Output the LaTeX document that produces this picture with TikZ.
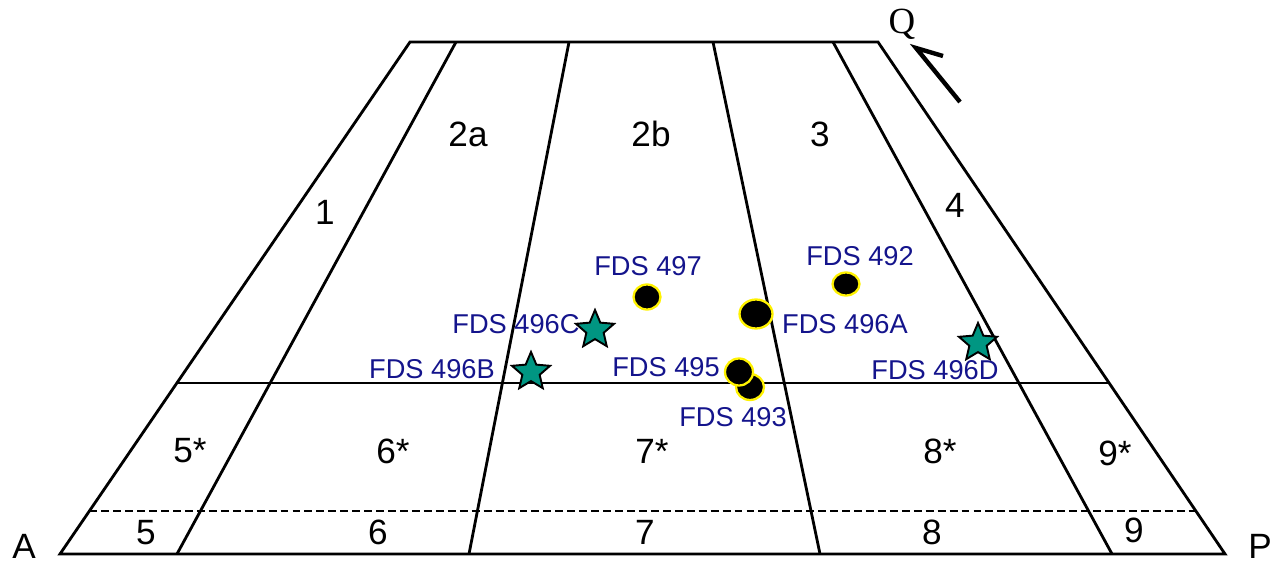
\documentclass[tikz,border=0pt]{standalone}
\usepackage{fontspec}
\setmainfont{Liberation Sans}
\newfontfamily\qfont{Liberation Serif}
\usetikzlibrary{shapes.geometric,calc}

\definecolor{fdsblue}{RGB}{20,20,140}
\definecolor{siteteal}{RGB}{0,150,130}

\tikzset{
  zone/.style={font=\fontsize{20}{24}\selectfont,inner sep=0pt},
  fds/.style={text=fdsblue,font=\fontsize{15.5}{18}\selectfont,inner sep=0pt},
  core/.style={ellipse,fill=black,draw=yellow,line width=1.3pt,inner sep=0pt},
  site/.style={star,star points=5,star point ratio=2.2,fill=siteteal,draw=black,
    line width=1.1pt,minimum size=0.8cm,inner sep=0pt},
}

\begin{document}
\begin{tikzpicture}[x=0.02cm,y=-0.02cm,line width=1.6pt]
  \useasboundingbox (0,0) rectangle (1277,563);
  % corners of the field
  \coordinate (bl) at (60,554);
  \coordinate (tl) at (410,42);
  \coordinate (tr) at (878,42);
  \coordinate (br) at (1225,554);
  \draw (bl) -- (tl) -- (tr) -- (br) -- cycle;
  % column borders
  \draw (456,42) -- (177,554);
  \draw (569,42) -- (469,554);
  \draw (713,42) -- (820,554);
  \draw (833,42) -- (1112,554);
  % row borders
  \draw ($(bl)!0.334!(tl)$) -- ($(br)!0.334!(tr)$);
  \draw[line width=1.1pt, dash pattern=on 4.5pt off 2.3pt]
    ($(bl)!0.084!(tl)$) -- ($(br)!0.084!(tr)$);

  % zone numbers
  \node[zone] (z1) at (325,212) {1};
  \node[zone] (z2a) at (468,134) {2a};
  \node[zone] (z2b) at (651,134) {2b};
  \node[zone] (z3) at (820,134) {3};
  \node[zone] (z4) at (955,205) {4};
  \node[zone] (z5s) at (190,451) {5*};
  \node[zone] (z6s) at (393,451) {6*};
  \node[zone] (z7s) at (652,451) {7*};
  \node[zone] (z8s) at (940,451) {8*};
  \node[zone] (z9s) at (1115,453) {9*};
  \node[zone] (z5) at (146,533) {5};
  \node[zone] (z6) at (378,532) {6};
  \node[zone] (z7) at (645,532) {7};
  \node[zone] (z8) at (932,532) {8};
  \node[zone] (z9) at (1134,530) {9};
  \node[zone] (A) at (24,546) {A};
  \node[zone] (P) at (1260,546) {P};

  % orientation mark
  \node[font=\qfont\fontsize{21}{25}\selectfont,inner sep=0pt] (Q) at (902,24) {Q};
  \coordinate (qtail) at (960,102);
  \coordinate (qtip) at (916,48);
  \coordinate (qbarb) at (943,56);
  \draw[line width=2.5pt] (qtail) -- (qtip) -- (qbarb);

  % samples
  \node[core,minimum width=0.54cm,minimum height=0.5cm] (s497) at (647,297) {};
  \node[core,minimum width=0.54cm,minimum height=0.46cm] (s492) at (846,284) {};
  \node[core,minimum width=0.66cm,minimum height=0.58cm] (s496A) at (756,314) {};
  \node[core,minimum width=0.56cm,minimum height=0.52cm] (s493) at (750,387) {};
  \node[core,minimum width=0.56cm,minimum height=0.54cm] (s495) at (739,372) {};
  \node[site] (s496C) at (595,330) {};
  \node[site] (s496B) at (531,372) {};
  \node[site] (s496D) at (978,343) {};

  \node[fds] (l497) at (648,266) {FDS 497};
  \node[fds] (l492) at (860,256) {FDS 492};
  \node[fds] (l496A) at (845,324) {FDS 496A};
  \node[fds] (l496C) at (516,324) {FDS 496C};
  \node[fds] (l496B) at (432,369) {FDS 496B};
  \node[fds] (l495) at (666,367) {FDS 495};
  \node[fds] (l493) at (733,417) {FDS 493};
  \node[fds] (l496D) at (935,370) {FDS 496D};
\end{tikzpicture}
\end{document}
